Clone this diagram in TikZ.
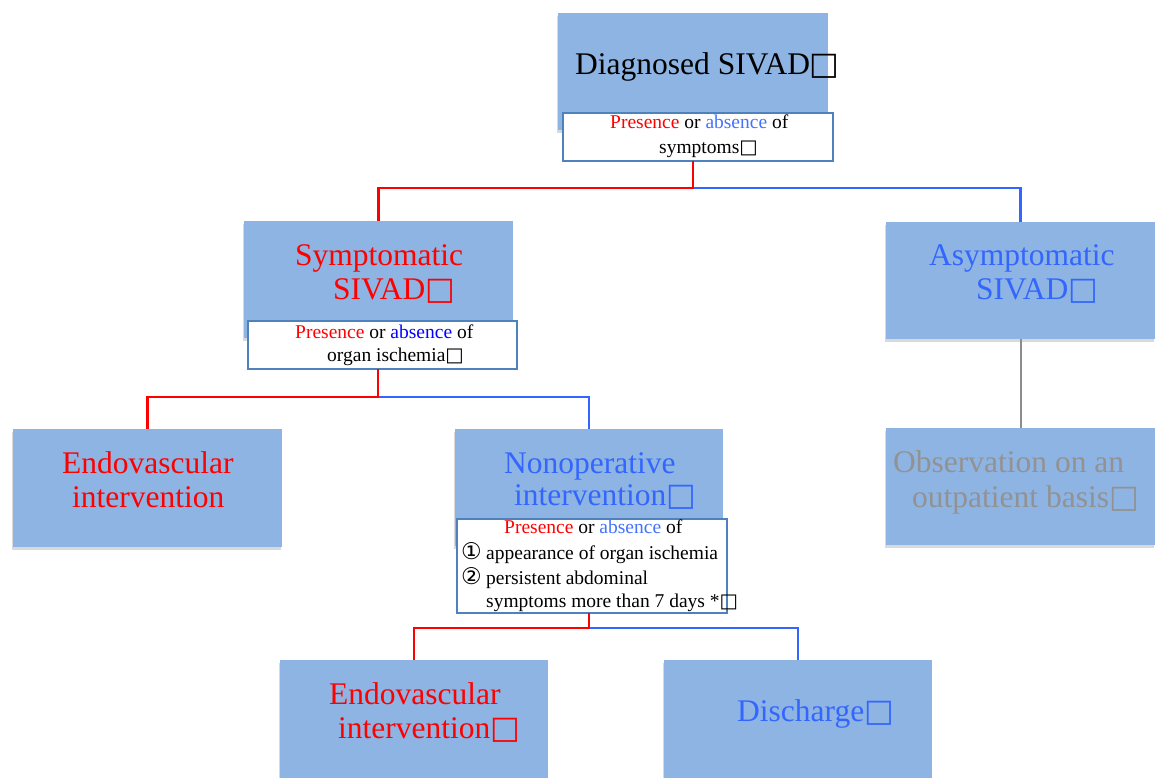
\documentclass[tikz,border=0pt]{standalone}
\usepackage{fontspec}
\setmainfont{Liberation Serif}
\newfontfamily\circfont{DejaVu Sans}
\usetikzlibrary{shadows}
\definecolor{boxblue}{RGB}{142,180,227}
\definecolor{tred}{RGB}{255,0,0}
\definecolor{tblue}{RGB}{51,102,255}
\definecolor{tblueb}{RGB}{0,0,255}
\definecolor{tbluec}{RGB}{68,114,255}
\definecolor{tgray}{RGB}{146,146,146}
\definecolor{qborder}{RGB}{79,129,189}
\definecolor{lgray}{RGB}{140,140,140}
\newcommand\sqg{{\circfont □}}
\tikzset{
  bluebox/.style={fill=boxblue, draw=none, inner sep=0pt, outer sep=0pt, anchor=north west,
    drop shadow={shadow xshift=-0.8pt, shadow yshift=-3pt, opacity=0.3}},
  qbox/.style={fill=white, draw=qborder, line width=1.2pt, inner sep=0pt, outer sep=0pt, anchor=north west},
  bigtxt/.style={anchor=base west, inner sep=0pt, font=\fontsize{31.5}{34}\selectfont},
  smalltxt/.style={anchor=base west, inner sep=0pt, font=\fontsize{19.5}{22}\selectfont},
  redl/.style={draw=tred, line width=2.5pt},
  bluel/.style={draw=tblue, line width=2.5pt},
  grayl/.style={draw=lgray, line width=2pt},
}
\begin{document}
\begin{tikzpicture}[x=1pt, y=-1pt]
\useasboundingbox (0,0) rectangle (1158,778);
% boxes
\node[bluebox, minimum width=270pt, minimum height=117pt] (diag) at (558,13) {};
\node[qbox, minimum width=270pt, minimum height=48pt] (q1) at (563,113) {};
\node[bluebox, minimum width=269pt, minimum height=117pt] (sym) at (244,221) {};
\node[qbox, minimum width=269pt, minimum height=48pt] (q2) at (248,321) {};
\node[bluebox, minimum width=269pt, minimum height=117pt] (asym) at (886,222) {};
\node[bluebox, minimum width=269pt, minimum height=117pt] (obs) at (886,428) {};
\node[bluebox, minimum width=269pt, minimum height=118pt] (endo1) at (13,429) {};
\node[bluebox, minimum width=268pt, minimum height=117pt] (nonop) at (455,429) {};
\node[qbox, minimum width=270pt, minimum height=94pt] (q3) at (457,519) {};
\node[bluebox, minimum width=268pt, minimum height=130pt] (endo2) at (280,660) {};
\node[bluebox, minimum width=268pt, minimum height=130pt] (disch) at (664,660) {};
% junctions
\coordinate (j1) at (693,188);
\coordinate (j2) at (378,397);
\coordinate (j3) at (589,628);
% connectors
\draw[bluel] (j1) -| (asym.north);
\draw[redl] (j1 |- q1.south) -- (j1) -| (sym.north);
\draw[bluel] (j2) -| (nonop.north);
\draw[redl] (j2 |- q2.south) -- (j2) -| (endo1.north);
\draw[bluel] (j3) -| (disch.north);
\draw[redl] (j3 |- q3.south) -- (j3) -| (endo2.north);
\draw[grayl] (asym.south) -- (obs.north);
% texts
\node[bigtxt] (tdiag) at (575,75) {Diagnosed SIVAD\sqg};
\node[smalltxt] (tq1a) at (610,129) {\textcolor{tred}{Presence} or \textcolor{tbluec}{absence} of};
\node[smalltxt] (tq1b) at (659,154) {symptoms\sqg};
\node[bigtxt, text=tred] (tsyma) at (295,265) {Symptomatic};
\node[bigtxt, text=tred] (tsymb) at (333,299) {SIVAD\sqg};
\node[smalltxt] (tq2a) at (295,338) {\textcolor{tred}{Presence} or \textcolor{tblueb}{absence} of};
\node[smalltxt] (tq2b) at (327,361) {organ ischemia\sqg};
\node[bigtxt, text=tblue] (tasyma) at (929,265) {Asymptomatic};
\node[bigtxt, text=tblue] (tasymb) at (976,299) {SIVAD\sqg};
\node[bigtxt, text=tgray] (tobsa) at (893,472) {Observation on an};
\node[bigtxt, text=tgray] (tobsb) at (912,507) {outpatient basis\sqg};
\node[bigtxt, text=tred] (tendo1a) at (62,473) {Endovascular};
\node[bigtxt, text=tred] (tendo1b) at (72,507) {intervention};
\node[bigtxt, text=tblue] (tnonopa) at (504,473) {Nonoperative};
\node[bigtxt, text=tblue] (tnonopb) at (514,505) {intervention\sqg};
\node[smalltxt] (tq3a) at (504,533) {\textcolor{tred}{Presence} or \textcolor{tbluec}{absence} of};
\node[smalltxt] (tq3b) at (461,559) {\makebox[25pt][l]{\circfont\fontsize{23}{23}\selectfont ①}appearance of organ ischemia};
\node[smalltxt] (tq3c) at (461,584) {\makebox[25pt][l]{\circfont\fontsize{23}{23}\selectfont ②}persistent abdominal};
\node[smalltxt] (tq3d) at (486,607) {symptoms more than 7 days *\sqg};
\node[bigtxt, text=tred] (tendo2a) at (329,704) {Endovascular};
\node[bigtxt, text=tred] (tendo2b) at (338,738) {intervention\sqg};
\node[bigtxt, text=tblue] (tdisch) at (737,721) {Discharge\sqg};
\end{tikzpicture}
\end{document}
